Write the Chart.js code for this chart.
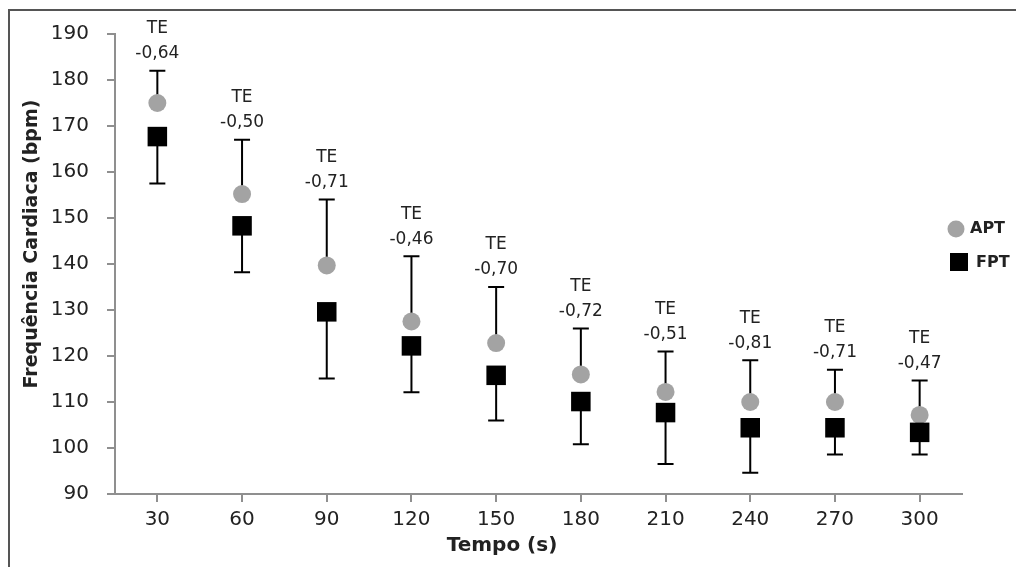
<!DOCTYPE html>
<html lang="pt">
<head>
<meta charset="utf-8">
<title>Frequência Cardiaca</title>
<script src="https://cdn.jsdelivr.net/npm/chart.js@4.4.1/dist/chart.umd.min.js"></script>
<style>
    body { margin: 0; background: #fff; overflow: hidden; }
    #moldura {
        position: absolute; left: 8px; top: 9px; width: 1100px; height: 700px;
        border-top: 2px solid #555; border-left: 2px solid #555;
    }
    #grafico { position: absolute; left: 0; top: 0; }
</style>
</head>
<body>
<div id="moldura"></div>
<canvas id="grafico" width="1016" height="567"></canvas>
<script>
// tempo (s)
const tempos = [30, 60, 90, 120, 150, 180, 210, 240, 270, 300];

// APT: media e limite superior da barra de erro
const apt = [175, 155.2, 139.7, 127.5, 122.8, 116, 112.2, 110, 110, 107.2];
const aptSuperior = [182, 167, 154, 141.7, 135, 126, 121, 119.1, 117, 114.7];

// FPT: media e limite inferior da barra de erro
const fpt = [167.7, 148.3, 129.6, 122.2, 115.8, 110.1, 107.7, 104.4, 104.4, 103.4];
const fptInferior = [157.5, 138.2, 115.1, 112.1, 106, 100.8, 96.5, 94.6, 98.6, 98.6];

// tamanho de efeito
const te = ['-0,64', '-0,50', '-0,71', '-0,46', '-0,70', '-0,72', '-0,51', '-0,81', '-0,71', '-0,47'];

const ticksY = [90, 100, 110, 120, 130, 140, 150, 160, 170, 180, 190];

const fonte = 'DejaVu Sans';
const corTexto = '#222';
const corEixo = '#8f8f8f';

function barra(ctx, x, y1, y2) {
    ctx.beginPath();
    ctx.moveTo(x, y1);
    ctx.lineTo(x, y2);
    ctx.moveTo(x - 8, y2);
    ctx.lineTo(x + 8, y2);
    ctx.stroke();
}

const extras = {
    id: 'extras',
    beforeDatasetsDraw(chart) {
        const ctx = chart.ctx;
        const sx = chart.scales.x;
        const sy = chart.scales.y;
        ctx.save();
        ctx.strokeStyle = '#000';
        ctx.lineWidth = 2;
        tempos.forEach((t, i) => {
            const px = sx.getPixelForValue(t);
            barra(ctx, px, sy.getPixelForValue(apt[i]), sy.getPixelForValue(aptSuperior[i]));
            barra(ctx, px, sy.getPixelForValue(fpt[i]), sy.getPixelForValue(fptInferior[i]));
        });
        ctx.restore();
    },
    afterDraw(chart) {
        const ctx = chart.ctx;
        const sx = chart.scales.x;
        const sy = chart.scales.y;
        const area = chart.chartArea;
        ctx.save();
        ctx.fillStyle = corTexto;
        ctx.textAlign = 'center';
        ctx.textBaseline = 'middle';

        // rotulos TE acima das barras
        ctx.font = '17px "' + fonte + '"';
        tempos.forEach((t, i) => {
            const px = sx.getPixelForValue(t);
            const topo = sy.getPixelForValue(aptSuperior[i]);
            ctx.fillText('TE', px, topo - 42);
            ctx.fillText(te[i], px, topo - 17);
        });

        // titulos dos eixos
        ctx.font = 'bold 20px "' + fonte + '"';
        ctx.fillText('Tempo (s)', 502, 546);
        ctx.save();
        ctx.translate(32, 244);
        ctx.rotate(-Math.PI / 2);
        ctx.font = 'bold 19px "' + fonte + '"';
        ctx.fillText('Frequência Cardiaca (bpm)', 0, 0);
        ctx.restore();

        // legenda
        const lx = area.right + 7;
        ctx.font = 'bold 16px "' + fonte + '"';
        ctx.textAlign = 'left';
        ctx.fillStyle = '#a3a3a3';
        ctx.beginPath();
        ctx.arc(lx - 13, 229, 8.5, 0, Math.PI * 2);
        ctx.fill();
        ctx.fillStyle = '#000';
        ctx.fillRect(lx - 19, 253, 18, 18);
        ctx.fillStyle = corTexto;
        ctx.fillText('APT', lx + 1, 229);
        ctx.fillText('FPT', lx + 7, 263);
        ctx.restore();
    }
};

new Chart(document.getElementById('grafico'), {
    type: 'scatter',
    data: {
        datasets: [
            {
                label: 'APT',
                data: tempos.map((t, i) => ({ x: t, y: apt[i] })),
                pointStyle: 'circle',
                pointRadius: 9,
                pointBackgroundColor: '#a3a3a3',
                pointBorderWidth: 0,
                order: 1
            },
            {
                label: 'FPT',
                data: tempos.map((t, i) => ({ x: t, y: fpt[i] })),
                pointStyle: 'rect',
                pointRadius: 13.8,
                pointBackgroundColor: '#000',
                pointBorderWidth: 0,
                order: 0
            }
        ]
    },
    options: {
        responsive: false,
        animation: false,
        events: [],
        layout: { padding: { left: 0, right: 54, top: 34, bottom: 0 } },
        plugins: {
            legend: { display: false },
            tooltip: { enabled: false }
        },
        scales: {
            x: {
                type: 'linear',
                min: 15,
                max: 315,
                afterBuildTicks: s => { s.ticks = tempos.map(v => ({ value: v })); },
                afterFit: s => { s.height = 73; },
                grid: { drawOnChartArea: false, color: corEixo, lineWidth: 2, tickLength: 8 },
                border: { color: corEixo, width: 2 },
                ticks: { font: { family: fonte, size: 20 }, color: corTexto, padding: 6, maxRotation: 0 }
            },
            y: {
                min: 90,
                max: 190,
                afterBuildTicks: s => { s.ticks = ticksY.map(v => ({ value: v })); },
                afterFit: s => { s.width = 115; },
                grid: { drawOnChartArea: false, color: corEixo, lineWidth: 2, tickLength: 8 },
                border: { color: corEixo, width: 2 },
                ticks: { font: { family: fonte, size: 20 }, color: corTexto, padding: 18 }
            }
        }
    },
    plugins: [extras]
});
</script>
</body>
</html>
